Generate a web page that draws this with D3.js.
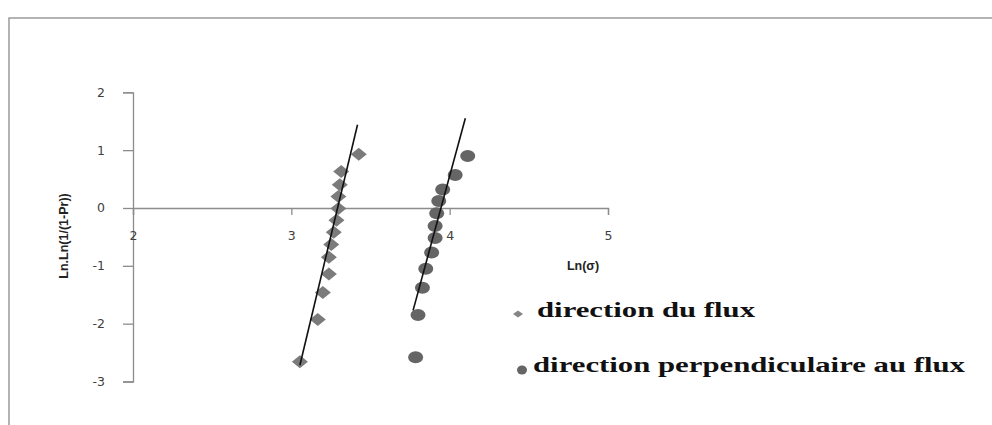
<!DOCTYPE html>
<html>
<head>
<meta charset="utf-8">
<script src="https://d3js.org/d3.v7.min.js"></script>
<style>
    body { margin: 0; background: #fff; }
    svg { display: block; }
    .axis path, .axis line { stroke: #8c8c8c; stroke-width: 1.3; }
    .axis text { font-family: 'DejaVu Sans', Verdana, sans-serif; font-size: 12.5px; fill: #404040; }
    .axis-title { font-family: 'Liberation Sans', Arial, sans-serif; font-size: 12.5px; font-weight: bold; fill: #222; }
    .legend text { font-family: 'Liberation Serif', 'Times New Roman', serif; font-weight: bold; font-size: 20px; fill: #111; }
</style>
</head>
<body>
<svg width="992" height="425"></svg>
<script>
// Points: Ln(sigma) and Ln.Ln(1/(1-Pr))
var fluxX = [3.054, 3.167, 3.199, 3.237, 3.237, 3.252, 3.268, 3.285, 3.297, 3.297, 3.306, 3.315, 3.426];
var fluxY = [-2.66, -1.93, -1.46, -1.14, -0.85, -0.63, -0.42, -0.21, -0.01, 0.20, 0.40, 0.63, 0.93];

var perpX = [3.785, 3.800, 3.828, 3.849, 3.886, 3.908, 3.908, 3.918, 3.931, 3.956, 4.035, 4.114];
var perpY = [-2.58, -1.85, -1.38, -1.05, -0.77, -0.52, -0.31, -0.09, 0.12, 0.32, 0.57, 0.90];

// Straight lines drawn over each series (end points in data units)
var fluxLineX = [3.054, 3.418];
var fluxLineY = [-2.72, 1.44];
var perpLineX = [3.769, 4.099];
var perpLineY = [-1.77, 1.55];

var xTicks = [2, 3, 4, 5];
var yTicks = [-3, -2, -1, 0, 1, 2];
var legendLabels = ['direction du flux', 'direction perpendiculaire au flux'];

var svg = d3.select('svg');

// Outer frame (only top and left edges show)
svg.append('path')
    .attr('d', 'M9,425V18H992')
    .attr('fill', 'none')
    .attr('stroke', '#9a9a9a')
    .attr('stroke-width', 1.5);

var xScale = d3.scaleLinear().domain([2, 5]).range([133, 608]);
var yScale = d3.scaleLinear().domain([-3, 2]).range([381.5, 92.3]);

// plain hyphen for negatives, like the original
var fmt = function(d) { return String(d); };

// y axis on the left at x = 2
svg.append('g')
    .attr('class', 'axis')
    .attr('transform', 'translate(' + xScale(2) + ',0)')
    .call(d3.axisLeft(yScale).tickValues(yTicks).tickSize(10).tickPadding(18).tickFormat(fmt));

// x axis crosses at y = 0
svg.append('g')
    .attr('class', 'axis')
    .attr('transform', 'translate(0,' + yScale(0) + ')')
    .call(d3.axisBottom(xScale).tickValues(xTicks).tickSize(7).tickPadding(16).tickFormat(fmt));

svg.selectAll('.axis .domain').attr('fill', 'none');

// axis titles
svg.append('text')
    .attr('class', 'axis-title')
    .attr('transform', 'translate(68,236) rotate(-90)')
    .attr('text-anchor', 'middle')
    .text('Ln.Ln(1/(1-Pr))');

svg.append('text')
    .attr('class', 'axis-title')
    .attr('x', 583)
    .attr('y', 270)
    .attr('text-anchor', 'middle')
    .text('Ln(σ)');

var line = d3.line()
    .x(function(d) { return xScale(d[0]); })
    .y(function(d) { return yScale(d[1]); });

function drawFit(xs, ys) {
    svg.append('path')
        .datum(d3.zip(xs, ys))
        .attr('d', line)
        .attr('fill', 'none')
        .attr('stroke', '#111')
        .attr('stroke-width', 1.6);
}

// diamonds first, then their line on top
svg.append('g').selectAll('path')
    .data(d3.zip(fluxX, fluxY))
    .enter()
    .append('path')
    .attr('transform', function(d) { return 'translate(' + xScale(d[0]) + ',' + yScale(d[1]) + ')'; })
    .attr('d', 'M0,-6.5L8,0L0,6.5L-8,0Z')
    .attr('fill', '#7b7b7b');

svg.append('g').selectAll('ellipse')
    .data(d3.zip(perpX, perpY))
    .enter()
    .append('ellipse')
    .attr('cx', function(d) { return xScale(d[0]); })
    .attr('cy', function(d) { return yScale(d[1]); })
    .attr('rx', 7.5)
    .attr('ry', 6)
    .attr('fill', '#656565');

drawFit(fluxLineX, fluxLineY);
drawFit(perpLineX, perpLineY);

// legend
var legend = svg.append('g').attr('class', 'legend');

legend.append('path')
    .attr('transform', 'translate(518,314)')
    .attr('d', 'M0,-3.5L5,0L0,3.5L-5,0Z')
    .attr('fill', '#858585');

legend.append('ellipse')
    .attr('cx', 522)
    .attr('cy', 370)
    .attr('rx', 5)
    .attr('ry', 4.5)
    .attr('fill', '#656565');

legend.append('text')
    .attr('x', 537)
    .attr('y', 317)
    .attr('textLength', 218)
    .attr('lengthAdjust', 'spacingAndGlyphs')
    .text(legendLabels[0]);

legend.append('text')
    .attr('x', 533)
    .attr('y', 372)
    .attr('textLength', 432)
    .attr('lengthAdjust', 'spacingAndGlyphs')
    .text(legendLabels[1]);
</script>
</body>
</html>
